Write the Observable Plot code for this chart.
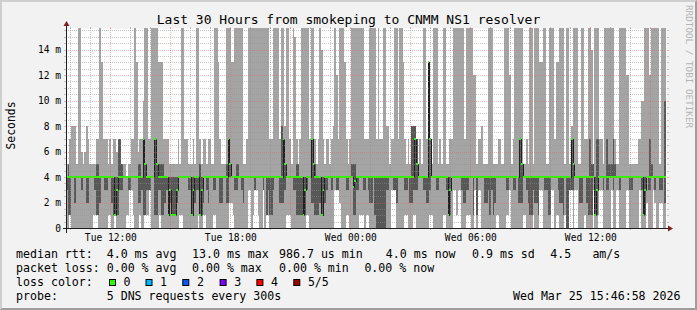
<!DOCTYPE html>
<html>
<head>
<meta charset="utf-8">
<script src="https://cdn.jsdelivr.net/npm/d3@7"></script>
<script src="https://cdn.jsdelivr.net/npm/@observablehq/plot@0.6"></script>
<style>
html, body { margin: 0; padding: 0; background: #f2f2f2; }
#wrap { position: relative; width: 697px; height: 310px; background: #f2f2f2; overflow: hidden; }
#chart { position: absolute; left: 0; top: 0; }
#bevel { position: absolute; left: 0; top: 0; width: 697px; height: 310px; box-sizing: border-box;
  border: 2px solid; border-color: #cfcfcf #9e9e9e #9e9e9e #cfcfcf; pointer-events: none; }
</style>
</head>
<body>
<div id="wrap"><div id="chart"></div><div id="bevel"></div></div>
<script>
// ---------------- DATA (ms), one value per 300 s step, 360 steps ----------------
// lowest ping of the 5 (bottom of light smoke)
const pingMin = [
0,0,1,0,0,0,0,0,0,0, 0,0,0,0,0,0,1,1,1,0, 0,0,0,0,0,1,1,0,0,1, 0,0,0,0,0,0,1,1,3,3, 1,0,0,0,1,0,0,1,1,1, 3,0,0,0,0,0,1,0,0,0,
0,0,0,0,0,0,0,0,1,1, 0,0,0,0,0,0,0,0,0,1, 0,0,1,1,0,0,0,0,1,1, 0,0,0,0,0,0,0,0,2,2, 1,0,0,0,0,0,0,0,0,3, 3,0,1,3,3,1,0,0,3,0,
1,1,0,0,0,0,0,0,0,0, 0,0,1,1,1,0,0,0,0,0, 0,0,0,0,1,1,0,0,0,0, 0,0,0,0,0,0,0,0,0,0, 0,3,3,3,2,0,0,0,1,1, 0,0,0,0,0,0,1,1,1,0,
1,1,0,0,0,0,0,0,0,0, 0,0,0,0,0,3,3,3,0,0, 0,0,0,1,1,0,0,0,1,1, 0,0,0,0,0,0,0,0,1,1, 0,0,0,0,0,0,1,1,0,0, 0,0,3,3,1,3,3,0,0,0,
1,1,1,0,0,3,0,3,3,0, 0,0,0,0,0,0,0,0,1,1, 0,0,0,0,1,1,3,0,0,0, 0,0,0,0,1,1,0,0,0,0, 1,0,0,0,3,3,0,0,0,0, 0,3,3,0,1,1,0,0,0,1,
0,0,3,3,0,3,3,0,0,0, 0,1,0,0,0,0,3,0,0,1, 3,3,0,0,0,0,0,3,0,0, 3,3,0,0,0,0,3,3,0,0, 0,0,0,0,3,0,0,0,2,0, 0,0,3,2,0,0,2,2,0,0
];
// 2nd ping (bottom of dark smoke)
const pingLow = [
3,1,1,4,4,2,4,4,4,3, 4,4,2,2,4,4,4,3,1,1, 2,4,4,3,3,4,4,2,1,1, 1,1,3,3,4,4,4,3,3,4, 4,4,4,2,2,3,1,1,3,3, 3,4,4,1,1,3,3,1,1,2,
3,1,2,1,1,1,2,3,4,4, 4,4,4,3,3,1,1,2,3,3, 1,1,2,4,3,2,4,4,3,3, 4,4,2,2,4,4,2,2,4,4, 4,3,3,4,4,3,2,4,4,4, 4,4,4,3,4,4,4,4,3,4,
1,3,1,1,3,4,4,4,2,2, 2,3,4,4,4,4,3,3,1,1, 1,1,1,1,3,4,4,2,2,1, 1,1,2,1,1,2,3,4,4,3, 4,4,3,3,4,4,4,4,3,3, 4,4,1,1,3,3,4,4,3,3,
4,3,2,2,4,1,0,0,0,0, 0,0,3,3,4,4,3,3,2,4, 4,4,4,3,3,4,2,2,3,3, 3,4,4,4,3,3,2,2,3,4, 4,4,3,3,4,4,4,4,3,1, 1,4,4,4,4,4,4,3,2,2,
3,3,4,4,1,4,1,4,4,4, 4,2,2,3,1,3,1,2,4,4, 4,4,4,4,3,3,4,4,3,3, 4,2,2,2,4,4,3,2,1,1, 3,2,2,1,4,4,4,3,3,1, 1,4,4,4,4,3,2,2,1,4,
0,0,3,3,3,4,4,4,2,2, 4,4,2,1,1,1,4,1,1,3, 4,4,3,4,3,3,4,4,3,4, 4,4,3,4,4,4,4,4,3,3, 4,4,4,4,4,3,1,1,4,3, 3,4,4,3,4,4,3,3,4,2
];
// median ping
const pingMedian = [
4,4,4,4,4,4,4,4,4,4, 4,4,4,4,4,4,4,4,4,4, 4,4,4,4,4,4,4,4,4,1, 3,4,4,4,4,4,4,4,4,4, 4,4,4,4,4,4,7,5,4,4, 4,4,4,7,5,4,4,4,4,4,
4,1,3,1,1,1,3,4,4,4, 4,4,4,4,4,1,3,4,4,4, 1,3,4,4,4,4,4,4,4,4, 4,4,4,4,4,4,4,7,5,4, 4,4,4,4,4,4,4,4,4,4, 4,4,4,4,4,4,4,4,4,4,
4,4,4,4,4,4,4,4,4,4, 7,5,4,4,4,4,4,4,4,4, 4,4,1,3,4,4,4,7,5,4, 4,4,4,1,3,4,4,4,4,4, 4,4,4,4,4,4,4,4,4,4, 4,4,3.2,3.7,4,4,4,4,4,4,
4,4,4,4,4,4,4,4,4,4, 4,4,4,4,4,4,4,4,4,4, 4,4,4,4,4,4,4,4,4,7, 5,4,4,4,4,4,4,13,7,4, 4,4,4,4,4,4,4,4,4,1, 3,4,4,4,4,4,4,4,4,4,
4,4,4,4,4,4,4,4,4,4, 4,4,4,4,4,4,4,4,4,4, 4,4,4,4,4,4,4,4,4,4, 4,4,7,5,4,4,4,4,4,4, 4,4,4,4,4,4,4,4,4,4, 4,4,4,4,4,4,4,4,4,4,
4,4,4,7,5,4,4,4,4,4, 4,4,4,4,4,4,4,1,3,4, 4,4,4,4,4,4,4,4,4,4, 4,4,4,4,4,4,4,4,4,4, 4,4,4,4,4,4,1,3,4,4, 4,4,4,4,4,4,4,4,4,4
];
// 4th ping (top of dark smoke)
const pingHigh = [
4,5,4,4,4,4,4,4,4,4, 4,4,4,4,4,4,4,4,5,5, 4,4,4,4,4,4,4,4,4,4, 4,7,7,5,4,4,4,4,4,4, 4,4,4,5,5,4,7,5,4,4, 4,4,4,7,5,4,5,5,5,4,
4,4,4,4,4,4,4,4,4,4, 4,4,4,4,4,4,4,4,4,4, 5,4,4,4,4,4,4,4,4,4, 4,4,4,4,4,4,5,7,5,4, 4,4,5,5,4,4,4,4,4,4, 4,4,4,4,4,4,4,4,4,4,
4,4,4,4,4,4,4,4,4,8, 7,5,4,4,4,4,4,4,5,5, 4,4,4,4,4,4,4,7,7,5, 4,4,4,4,4,4,4,4,4,4, 4,4,4,4,4,4,4,4,4,4, 4,5,5,5,4,4,4,4,4,4,
4,4,4,4,4,4,4,4,4,4, 4,4,4,4,4,4,4,4,4,4, 4,4,4,4,4,4,4,8,8,8, 7,4,4,4,4,4,4,13,7,4, 4,4,4,4,4,4,4,4,4,4, 4,4,4,4,4,4,4,4,4,4,
4,4,4,4,4,4,4,4,4,4, 4,4,4,4,4,4,4,4,4,4, 4,4,4,4,4,4,4,4,4,4, 4,4,7,5,4,4,4,4,4,4, 4,4,4,4,4,4,4,4,4,4, 4,4,4,4,4,4,4,4,4,4,
4,4,4,7,7,4,4,4,4,4, 4,4,4,4,7,5,5,4,7,7, 4,4,4,4,7,5,5,5,7,5, 4,4,4,4,4,4,4,4,4,4, 4,4,4,4,4,4,4,4,4,4, 7,5,4,4,4,4,4,4,4,10
];
// highest ping (top of light smoke; 16 = above the chart top)
const pingMax = [
5,5,7,8,8,8,5,16,16,6, 5,6,8,7,5,5,5,5,7,7, 16,13,7,7,7,5,7,5,7,7, 6,7,7,5,5,5,4,5,5,7, 7,16,13,6,7,7,10,16,16,7, 7,16,16,16,16,13,13,13,7,7,
7,7,5,5,5,5,5,7,5,16, 16,7,7,5,5,5,7,5,16,16, 7,5,7,7,5,7,7,5,5,16, 16,13,7,5,5,5,16,16,16,13, 13,16,16,16,16,16,5,5,7,16, 16,16,16,16,16,16,16,16,16,16,
16,16,7,7,16,16,16,16,7,16, 16,8,16,16,7,5,16,15,7,5, 7,16,16,16,16,16,7,16,16,7, 5,7,16,14,7,5,7,7,5,7, 8,16,12,7,16,16,16,13,7,5, 7,16,16,16,16,16,16,16,16,7,
7,7,16,16,16,16,7,16,7,7, 16,16,8,8,5,7,7,16,16,7, 16,16,13,7,5,7,5,8,8,8, 7,5,7,5,16,16,7,13,7,5, 16,16,16,5,7,5,16,16,5,5, 7,7,16,16,16,16,16,16,16,7,
16,16,16,16,12,12,5,7,7,8, 5,5,5,16,16,16,5,5,5,7, 7,5,5,16,16,16,12,5,7,16, 16,16,16,16,5,5,7,5,16,16, 5,16,16,16,13,13,16,16,5,5, 16,16,16,7,13,13,16,16,16,5,
16,16,5,8,16,16,16,5,5,16, 16,7,7,16,16,14,5,16,16,16, 7,7,5,16,16,16,16,16,16,7, 5,5,16,16,16,16,12,12,5,5, 5,5,5,7,7,10,10,16,16,16, 12,16,16,16,16,16,5,16,16,16
];

const yTickValues = [0, 2, 4, 6, 8, 10, 12, 14];
const xTickTimes = [Date.UTC(2026,2,24,12), Date.UTC(2026,2,24,18), Date.UTC(2026,2,25,0), Date.UTC(2026,2,25,6), Date.UTC(2026,2,25,12)];
const xTickLabels = ["Tue 12:00", "Tue 18:00", "Wed 00:00", "Wed 06:00", "Wed 12:00"];

const titleText = "Last 30 Hours from smokeping to CNMM NS1 resolver";
const yAxisTitle = "Seconds";
const watermark = "RRDTOOL / TOBI OETIKER";
const statsMedian = ["median rtt:", "4.0 ms avg", "13.0 ms max", "986.7 us min", "4.0 ms now", "0.9 ms sd", "4.5", "am/s"];
const statsLoss = ["packet loss:", "0.00 % avg", "0.00 % max", "0.00 % min", "0.00 % now"];
const lossLabels = ["0", "1", "2", "3", "4", "5/5"];
const lossColors = ["#26ff00", "#00b8ff", "#0059ff", "#7e00ff", "#ff0000", "#a10000"];
const probeText = ["probe:", "5 DNS requests every 300s"];
const stampText = "Wed Mar 25 15:46:58 2026";

// ---------------- CHART ----------------
const STEP_MS = 300000;
const START = Date.UTC(2026, 2, 24, 9, 46, 58);
const END = START + pingMax.length * STEP_MS;
const Y_MAX = 200 / 12.75;
const MARK = Y_MAX / 200;           // median marker half-thickness (1 px)

const rows = pingMax.map((_, i) => ({
  t1: new Date(START + i * STEP_MS), t2: new Date(START + (i + 1) * STEP_MS),
  p1: pingMin[i], p2: pingLow[i], p3: pingMedian[i], p4: pingHigh[i], p5: pingMax[i]
}));
const medianPts = rows.map(r => ({t: r.t1, v: r.p3}))
  .concat([{t: new Date(END), v: pingMedian[pingMedian.length - 1]}]);

const GRID = "rgba(143,143,143,0.5)";
const MGRID = "rgba(230,90,90,0.42)";
const yAll = d3.range(1, 32).map(k => k / 2);
const yMajor = yAll.filter(v => v % 2 === 0);
const yMinor = yAll.filter(v => v % 2 !== 0);
const hours = d3.utcHours(new Date(START), new Date(END));
const hMajor = hours.filter(d => d.getUTCHours() % 3 === 0);
const hMinor = hours.filter(d => d.getUTCHours() % 3 !== 0);
const labelMap = new Map(xTickTimes.map((t, i) => [t, xTickLabels[i]]));
const crisp = {shapeRendering: "crispEdges"};

const plot = Plot.plot({
  width: 697, height: 310,
  marginLeft: 66, marginRight: 31, marginTop: 28, marginBottom: 82,
  style: {background: "transparent", fontFamily: '"DejaVu Sans Mono", monospace', fontSize: "9.6px", color: "#000", overflow: "visible"},
  x: {type: "utc", domain: [new Date(START), new Date(END)]},
  y: {domain: [0, Y_MAX]},
  marks: [
    Plot.frame({fill: "#ffffff", stroke: "none"}),
    Plot.rect(rows, {x1: "t1", x2: "t2", y1: "p1", y2: "p5", fill: "#a4a4a4", clip: true, ...crisp}),
    Plot.rect(rows, {x1: "t1", x2: "t2", y1: "p2", y2: "p4", fill: "#585858", clip: true, ...crisp}),
    Plot.line(medianPts, {x: "t", y: "v", curve: "step-after", stroke: "#202020", strokeWidth: 1, clip: true, ...crisp}),
    Plot.rect(rows, {x1: "t1", x2: "t2", y1: d => d.p3 - MARK, y2: d => d.p3 + MARK, fill: lossColors[0], clip: true, ...crisp}),
    Plot.ruleY(yMinor, {stroke: GRID, strokeDasharray: "1,1", ...crisp}),
    Plot.ruleY(yMajor, {stroke: MGRID, strokeDasharray: "1,1", ...crisp}),
    Plot.ruleX(hMinor, {stroke: GRID, strokeDasharray: "1,1", ...crisp}),
    Plot.ruleX(hMajor, {stroke: MGRID, strokeDasharray: "1,1", ...crisp}),
    Plot.axisY(yMinor, {anchor: "left", tickSize: 2, tickFormat: () => "", stroke: GRID, label: null, ...crisp}),
    Plot.axisY(yMinor, {anchor: "right", tickSize: 2, tickFormat: () => "", stroke: GRID, label: null, ...crisp}),
    Plot.axisY(yMajor, {anchor: "left", tickSize: 2, tickFormat: () => "", stroke: MGRID, label: null, ...crisp}),
    Plot.axisY(yMajor, {anchor: "right", tickSize: 2, tickFormat: () => "", stroke: MGRID, label: null, ...crisp}),
    Plot.axisX(hMinor, {anchor: "bottom", tickSize: 2, tickFormat: () => "", stroke: GRID, label: null, ...crisp}),
    Plot.axisX(hMinor, {anchor: "top", tickSize: 2, tickFormat: () => "", stroke: GRID, label: null, ...crisp}),
    Plot.axisX(hMajor, {anchor: "bottom", tickSize: 2, tickFormat: () => "", stroke: MGRID, label: null, ...crisp}),
    Plot.axisX(hMajor, {anchor: "top", tickSize: 2, tickFormat: () => "", stroke: MGRID, label: null, ...crisp}),
    Plot.axisY(yTickValues, {anchor: "left", tickSize: 0, tickPadding: 5.5, label: null,
      tickFormat: d => d === 0 ? "0" : `${d} m`}),
    Plot.axisX(xTickTimes.map(t => new Date(t)), {anchor: "bottom", tickSize: 0, tickPadding: 6, label: null,
      tickFormat: d => labelMap.get(+d)})
  ]
});
document.getElementById("chart").appendChild(plot);

// axes, arrows and texts
const svg = d3.select(plot);
const xs = plot.scale("x"), ys = plot.scale("y");
const X0 = xs.apply(new Date(START)) + 0.5, X1 = xs.apply(new Date(END));
const Y0 = ys.apply(0) + 0.5, Y1 = ys.apply(Y_MAX);
const g = svg.append("g");
g.append("line").attr("x1", X0 - 4).attr("x2", X1 + 4).attr("y1", Y0).attr("y2", Y0)
  .attr("stroke", "#1f1f1f").attr("stroke-width", 1).attr("shape-rendering", "crispEdges");
g.append("line").attr("x1", X0).attr("x2", X0).attr("y1", Y0 + 4).attr("y2", Y1 - 4)
  .attr("stroke", "#1f1f1f").attr("stroke-width", 1).attr("shape-rendering", "crispEdges");
g.append("polygon").attr("points", `${X1+2},${Y0-3} ${X1+2},${Y0+3} ${X1+7},${Y0}`).attr("fill", "#801f1f");
g.append("polygon").attr("points", `${X0-3},${Y1-2} ${X0+3},${Y1-2} ${X0},${Y1-7}`).attr("fill", "#801f1f");

const mono = '"DejaVu Sans Mono", monospace';
function txt(s, x, y, size, opts = {}) {
  const t = g.append("text").attr("x", x).attr("y", y).text(s)
    .style("font-family", mono).style("font-size", size + "px").attr("fill", opts.fill || "#000")
    .attr("text-anchor", opts.anchor || "start");
  if (opts.transform) t.attr("transform", opts.transform);
  return t;
}
txt(titleText, 348.5, 24, 13, {anchor: "middle"});
txt(yAxisTitle, 0, 0, 11.4, {anchor: "middle", transform: "translate(15,125.5) rotate(-90)"});
txt(watermark, 0, 0, 9.3, {fill: "#b4b4b4", transform: "translate(685.5,5) rotate(90)"});

const LEG = 11.6;
const medX = [16, 106.7, 192, 279, 385.8, 472, 550.2, 592.4];
statsMedian.forEach((s, i) => txt(s, medX[i], 258.3, LEG));
const lossX = [16, 106.7, 192, 279, 364.4];
statsLoss.forEach((s, i) => txt(s, lossX[i], 272.2, LEG));
txt("loss color:", 16, 286.2, LEG);
const boxX = [109, 145.5, 182.3, 219.6, 256.4, 293.3];
lossLabels.forEach((s, i) => {
  g.append("rect").attr("x", boxX[i] + 0.5).attr("y", 279.5).attr("width", 6).attr("height", 6)
    .attr("fill", lossColors[i]).attr("stroke", "#000").attr("stroke-width", 1);
  txt(s, boxX[i] + 14.6, 286.2, LEG);
});
txt(probeText[0], 16, 300, LEG);
txt(probeText[1], 106.7, 300, LEG);
txt(stampText, 680.5, 300, LEG, {anchor: "end"});
</script>
</body>
</html>
